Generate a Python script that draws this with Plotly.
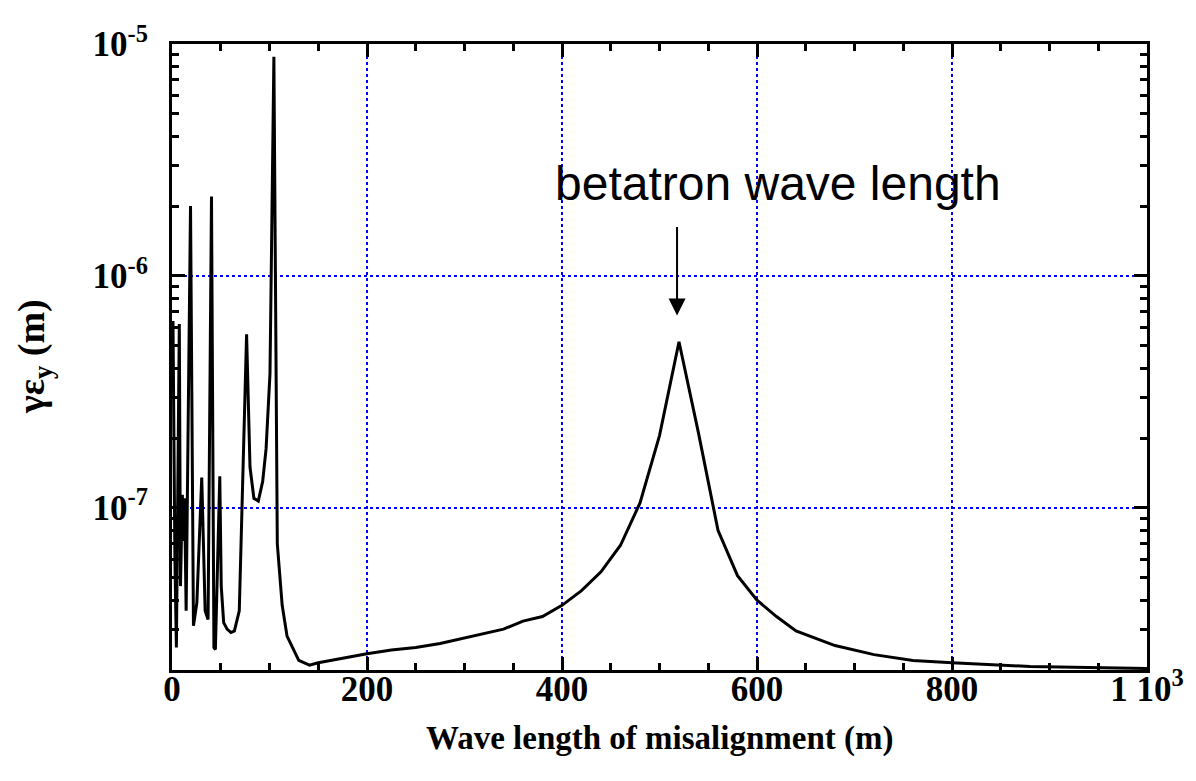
import math
import plotly.graph_objects as go

# Wave length of misalignment (m)
wave_length = [1, 3, 4.5, 7.5, 8.7, 10.6, 11.9, 12.9, 14.5, 19, 22, 25.5, 30.5, 34, 37,
               40.5, 43, 44.5, 49, 50.5, 53, 56.5, 60.5, 64, 69, 76.5, 80, 84, 88.5, 93,
               96.5, 100.5, 104.5, 108, 113, 118, 130, 141, 150, 175, 200, 225, 250, 275,
               300, 320, 340, 360, 380, 400, 420, 440, 460, 480, 500, 520, 540, 560, 580,
               600, 620, 640, 660, 680, 720, 760, 800, 880, 1000]
# Normalized vertical emittance (m)
emittance = [6.4e-7, 5.9e-8, 2.5e-8, 6.2e-7, 4.6e-8, 1.14e-7, 7.2e-8, 1.1e-7, 3.6e-8, 2.0e-6,
             3.1e-8, 3.9e-8, 1.35e-7, 3.6e-8, 3.3e-8, 2.2e-6, 2.5e-8, 2.45e-8, 1.37e-7, 4.6e-8,
             3.2e-8, 3.0e-8, 2.9e-8, 2.95e-8, 3.6e-8, 5.6e-7, 1.5e-7, 1.1e-7, 1.07e-7, 1.3e-7,
             1.8e-7, 3.8e-7, 8.8e-6, 7.0e-8, 3.8e-8, 2.8e-8, 2.2e-8, 2.1e-8, 2.15e-8, 2.25e-8,
             2.35e-8, 2.44e-8, 2.5e-8, 2.6e-8, 2.75e-8, 2.87e-8, 3.0e-8, 3.25e-8, 3.4e-8, 3.8e-8,
             4.4e-8, 5.3e-8, 6.9e-8, 1.05e-7, 2.05e-7, 5.2e-7, 2.1e-7, 8.0e-8, 5.1e-8, 4.0e-8,
             3.4e-8, 2.95e-8, 2.75e-8, 2.55e-8, 2.33e-8, 2.2e-8, 2.15e-8, 2.07e-8, 2.03e-8]

x_tickvals = [0, 200, 400, 600, 800, 1000]
x_ticktext = ["0", "200", "400", "600", "800", "1 10<sup>3</sup>"]
x_minor = [v for v in range(50, 1000, 50) if v % 200 != 0]

y_tickvals = [1e-7, 1e-6, 1e-5]
y_ticktext = ["10<sup>-7</sup>", "10<sup>-6</sup>", "10<sup>-5</sup>"]
y_minor = [m * 10.0 ** e for e in (-8, -7, -6) for m in range(2, 10)]

x_title = "Wave length of misalignment (m)"
y_title = "γε<sub>y</sub> (m)"
annotation_text = "betatron wave length"
arrow_x = 518
arrow_tip_y = 6.76e-7

fig = go.Figure()
fig.add_trace(go.Scatter(x=wave_length, y=emittance, mode="lines",
                         line=dict(color="black", width=3), showlegend=False))

tickfont = dict(family="Liberation Serif", size=35, color="black", weight="bold")
xtitlefont = dict(family="Liberation Serif", size=33, color="black", weight="bold")
ytitlefont = dict(family="Liberation Serif", size=38, color="black", weight="bold")

fig.update_layout(
    width=1188, height=765,
    margin=dict(l=164, r=43, t=26, b=103),
    paper_bgcolor="white", plot_bgcolor="white",
    xaxis=dict(
        range=[0, 1000], showline=True, linecolor="black", linewidth=3, mirror="ticks",
        ticks="inside", ticklen=13, tickwidth=3, tickcolor="black",
        tickvals=x_tickvals, ticktext=x_ticktext, tickfont=tickfont,
        ticklabelstandoff=-14,
        showgrid=True, gridcolor="#0000ff", gridwidth=1.5, griddash="3px,3px",
        zeroline=False,
        minor=dict(tickvals=x_minor, ticks="inside", ticklen=7, tickwidth=3,
                   tickcolor="black", showgrid=False),
    ),
    yaxis=dict(
        type="log", range=[math.log10(2e-8), -5], showline=True, linecolor="black",
        linewidth=3, mirror="ticks",
        ticks="inside", ticklen=13, tickwidth=3, tickcolor="black",
        tickvals=y_tickvals, ticktext=y_ticktext, tickfont=tickfont,
        ticklabelstandoff=14, ticklabeloverflow="allow",
        showgrid=True, gridcolor="#0000ff", gridwidth=1.5, griddash="3px,3px",
        zeroline=False,
        minor=dict(tickvals=y_minor, ticks="inside", ticklen=7, tickwidth=3,
                   tickcolor="black", showgrid=False),
    ),
)

# axis titles
fig.add_annotation(x=0.5, y=0, xref="paper", yref="paper", text=x_title, showarrow=False,
                   font=xtitlefont, xanchor="center", yanchor="middle", yshift=-68)
fig.add_annotation(x=0, y=0.5, xref="paper", yref="paper", text=y_title, showarrow=False,
                   font=ytitlefont, textangle=-90, xanchor="center", yanchor="middle",
                   xshift=-138)

fig.add_annotation(x=arrow_x, y=math.log10(arrow_tip_y), xref="x", yref="y", text="",
                   showarrow=True, ax=0, ay=-90, arrowhead=2, arrowsize=1.7,
                   arrowwidth=2, arrowcolor="black")
fig.add_annotation(x=622, y=math.log10(2.5e-6), xref="x", yref="y", text=annotation_text,
                   showarrow=False, font=dict(family="Liberation Sans", size=48, color="black"),
                   xanchor="center", yanchor="middle")

fig.write_html("out.html")
